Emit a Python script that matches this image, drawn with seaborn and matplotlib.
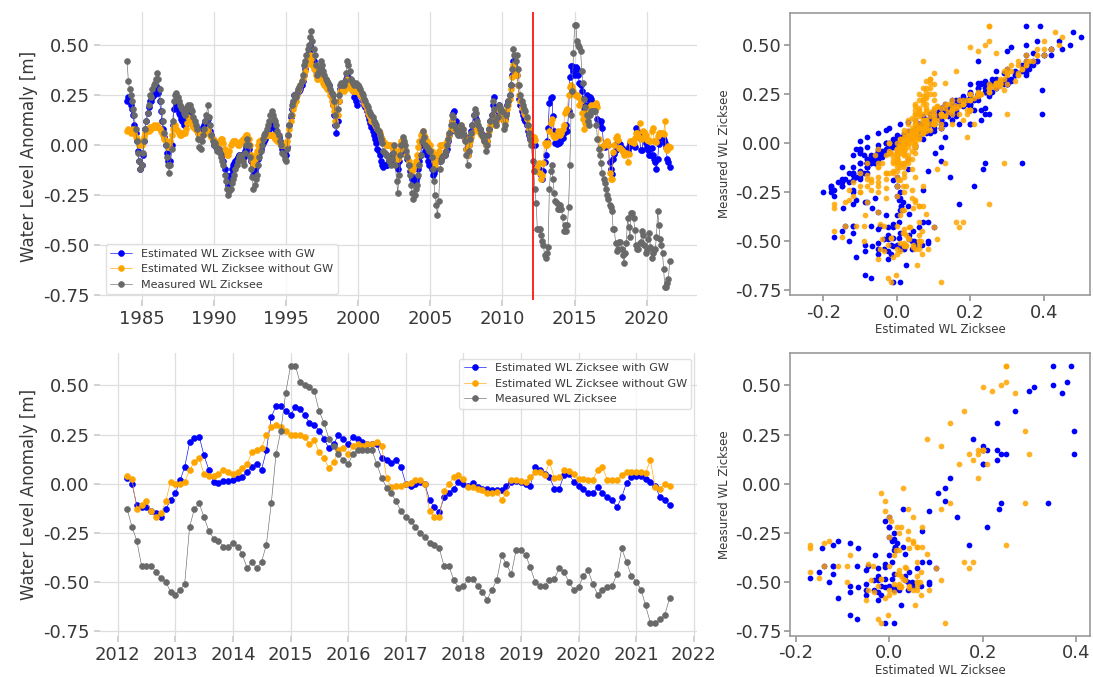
import numpy as np
import pandas as pd
import matplotlib
matplotlib.use("Agg")
import matplotlib.pyplot as plt
import matplotlib.dates as mdates
from matplotlib.ticker import MultipleLocator, FormatStrFormatter
import seaborn as sns

# ---------------- data (monthly, 1984-01 .. 2012-02) ----------------
measured_1984_2012 = [
    0.42, 0.32, 0.28, 0.25, 0.22, 0.18, 0.15, 0.08, 0.02, -0.04, -0.08, -0.12,
    -0.10, -0.04, 0.02, 0.08, 0.12, 0.16, 0.20, 0.25, 0.24, 0.28, 0.30, 0.31,
    0.33, 0.36, 0.33, 0.28, 0.22, 0.17, 0.12, 0.06, 0.00, -0.06, -0.10, -0.14,
    -0.10, -0.02, 0.12, 0.22, 0.25, 0.26, 0.24, 0.22, 0.20, 0.19, 0.18, 0.16,
    0.15, 0.17, 0.19, 0.20, 0.20, 0.18, 0.17, 0.14, 0.12, 0.10, 0.08, 0.03,
    -0.01, -0.02, 0.02, 0.05, 0.08, 0.12, 0.15, 0.20, 0.14, 0.10, 0.05, 0.02,
    0.00, 0.01, -0.01, -0.03, -0.02, -0.04, -0.06, -0.08, -0.10, -0.15, -0.18, -0.22,
    -0.25, -0.23, -0.22, -0.19, -0.17, -0.15, -0.12, -0.10, -0.08, -0.06, -0.05, -0.06,
    -0.08, -0.10, -0.04, 0.00, 0.03, 0.00, -0.06, -0.12, -0.16, -0.22, -0.20, -0.17,
    -0.15, -0.10, -0.06, -0.03, 0.00, 0.03, 0.05, 0.06, 0.08, 0.10, 0.12, 0.15,
    0.17, 0.15, 0.13, 0.12, 0.10, 0.07, 0.05, 0.02, 0.00, -0.04, -0.05, -0.07,
    -0.08, -0.02, 0.05, 0.10, 0.15, 0.20, 0.22, 0.25, 0.24, 0.26, 0.28, 0.29,
    0.30, 0.32, 0.35, 0.40, 0.42, 0.45, 0.48, 0.50, 0.54, 0.57, 0.52, 0.48,
    0.45, 0.40, 0.35, 0.36, 0.38, 0.42, 0.40, 0.37, 0.35, 0.33, 0.32, 0.31,
    0.30, 0.28, 0.26, 0.25, 0.22, 0.15, 0.10, 0.18, 0.25, 0.30, 0.31, 0.30,
    0.30, 0.32, 0.36, 0.42, 0.40, 0.37, 0.33, 0.32, 0.31, 0.30, 0.31, 0.30,
    0.30, 0.29, 0.28, 0.26, 0.25, 0.23, 0.22, 0.20, 0.19, 0.17, 0.16, 0.15,
    0.14, 0.12, 0.11, 0.10, 0.08, 0.07, 0.05, 0.03, 0.01, -0.03, -0.04, -0.05,
    -0.05, -0.06, -0.08, -0.10, -0.07, -0.04, 0.00, -0.10, -0.18, -0.24, -0.15, -0.05,
    0.00, 0.04, 0.02, 0.00, -0.03, -0.06, -0.10, -0.15, -0.20, -0.24, -0.27, -0.25,
    -0.22, -0.20, -0.15, -0.10, -0.05, 0.02, 0.07, 0.04, 0.00, -0.01, -0.02, -0.03,
    -0.03, -0.06, -0.12, -0.18, -0.25, -0.30, -0.35, -0.28, -0.12, -0.08, -0.06, -0.05,
    -0.05, -0.03, 0.00, 0.03, 0.06, 0.10, 0.15, 0.14, 0.10, 0.08, 0.06, 0.05,
    0.05, 0.07, 0.10, 0.08, 0.05, 0.02, -0.05, -0.10, -0.03, 0.03, 0.06, 0.10,
    0.15, 0.18, 0.16, 0.12, 0.10, 0.08, 0.06, 0.05, 0.04, 0.02, -0.03, 0.00,
    0.05, 0.08, 0.12, 0.15, 0.22, 0.18, 0.12, 0.10, 0.14, 0.20, 0.19, 0.17,
    0.17, 0.08, 0.10, 0.15, 0.20, 0.22, 0.25, 0.30, 0.38, 0.48, 0.45, 0.42,
    0.45, 0.38, 0.30, 0.25, 0.22, 0.20, 0.18, 0.17, 0.14, 0.10, 0.06, 0.03,
    0.00, -0.08,
]
est_gw_1984_2012 = [
    0.22, 0.24, 0.22, 0.20, 0.18, 0.15, 0.10, 0.06, 0.02, -0.03, -0.08, -0.12,
    -0.10, -0.05, 0.02, 0.08, 0.12, 0.16, 0.19, 0.22, 0.22, 0.24, 0.25, 0.26,
    0.27, 0.29, 0.26, 0.22, 0.17, 0.12, 0.08, 0.04, 0.00, -0.04, -0.08, -0.10,
    -0.08, 0.00, 0.10, 0.18, 0.22, 0.20, 0.18, 0.16, 0.15, 0.13, 0.12, 0.10,
    0.10, 0.13, 0.16, 0.18, 0.17, 0.14, 0.12, 0.11, 0.10, 0.09, 0.08, 0.06,
    0.05, 0.05, 0.07, 0.09, 0.10, 0.12, 0.12, 0.13, 0.10, 0.07, 0.05, 0.03,
    0.00, 0.00, -0.01, -0.02, -0.02, -0.03, -0.04, -0.05, -0.08, -0.12, -0.15, -0.18,
    -0.20, -0.18, -0.15, -0.12, -0.10, -0.09, -0.08, -0.07, -0.06, -0.05, -0.05, -0.05,
    -0.05, -0.06, -0.03, -0.01, 0.00, -0.02, -0.05, -0.08, -0.12, -0.15, -0.13, -0.11,
    -0.10, -0.07, -0.04, -0.02, 0.00, 0.01, 0.02, 0.03, 0.05, 0.06, 0.08, 0.09,
    0.10, 0.10, 0.09, 0.08, 0.06, 0.05, 0.04, 0.02, 0.00, -0.02, -0.03, -0.04,
    -0.05, -0.01, 0.05, 0.10, 0.14, 0.18, 0.21, 0.25, 0.25, 0.26, 0.27, 0.27,
    0.28, 0.30, 0.32, 0.35, 0.38, 0.42, 0.45, 0.47, 0.50, 0.48, 0.44, 0.42,
    0.40, 0.37, 0.35, 0.35, 0.36, 0.38, 0.36, 0.34, 0.32, 0.31, 0.30, 0.30,
    0.30, 0.27, 0.24, 0.20, 0.15, 0.10, 0.06, 0.12, 0.22, 0.28, 0.29, 0.29,
    0.30, 0.31, 0.33, 0.35, 0.34, 0.32, 0.30, 0.29, 0.27, 0.24, 0.22, 0.20,
    0.28, 0.27, 0.25, 0.24, 0.22, 0.20, 0.19, 0.17, 0.15, 0.13, 0.11, 0.09,
    0.07, 0.05, 0.03, 0.01, -0.02, -0.03, -0.05, -0.08, -0.10, -0.11, -0.10, -0.10,
    -0.10, -0.09, -0.08, -0.08, -0.06, -0.04, -0.03, -0.06, -0.10, -0.12, -0.08, -0.03,
    0.00, 0.00, -0.01, -0.03, -0.05, -0.07, -0.10, -0.13, -0.15, -0.17, -0.17, -0.18,
    -0.18, -0.16, -0.12, -0.08, -0.05, 0.00, 0.05, 0.02, -0.03, -0.05, -0.08, -0.10,
    -0.10, -0.12, -0.15, -0.14, -0.12, -0.08, -0.05, -0.06, -0.08, -0.07, -0.06, -0.05,
    -0.05, -0.03, -0.02, 0.02, 0.05, 0.07, 0.12, 0.16, 0.17, 0.12, 0.10, 0.08,
    0.07, 0.08, 0.08, 0.06, 0.04, 0.03, -0.02, -0.05, 0.00, 0.04, 0.07, 0.10,
    0.15, 0.15, 0.13, 0.10, 0.09, 0.08, 0.06, 0.05, 0.05, 0.03, 0.00, 0.02,
    0.05, 0.08, 0.12, 0.15, 0.20, 0.24, 0.15, 0.12, 0.14, 0.20, 0.18, 0.16,
    0.15, 0.12, 0.13, 0.16, 0.20, 0.22, 0.25, 0.30, 0.35, 0.42, 0.40, 0.37,
    0.35, 0.30, 0.23, 0.20, 0.17, 0.15, 0.13, 0.12, 0.10, 0.07, 0.05, 0.03,
    0.02, 0.03,
]
est_nogw_1984_2012 = [
    0.07, 0.08, 0.07, 0.06, 0.07, 0.08, 0.06, 0.04, 0.03, 0.02, 0.00, 0.01,
    0.00, 0.02, 0.04, 0.06, 0.07, 0.08, 0.07, 0.09, 0.08, 0.09, 0.10, 0.09,
    0.09, 0.10, 0.09, 0.08, 0.07, 0.06, 0.05, 0.03, 0.02, 0.00, -0.01, 0.00,
    0.02, 0.05, 0.08, 0.10, 0.10, 0.08, 0.07, 0.06, 0.05, 0.05, 0.06, 0.06,
    0.06, 0.08, 0.11, 0.14, 0.13, 0.12, 0.10, 0.09, 0.08, 0.08, 0.07, 0.06,
    0.05, 0.05, 0.05, 0.05, 0.06, 0.07, 0.07, 0.08, 0.06, 0.05, 0.04, 0.03,
    0.02, 0.02, 0.01, 0.00, 0.01, 0.02, 0.03, 0.03, 0.01, -0.02, -0.03, -0.05,
    -0.05, -0.03, 0.00, 0.01, 0.02, 0.02, 0.02, 0.01, 0.00, 0.00, 0.01, 0.02,
    0.03, 0.03, 0.04, 0.05, 0.05, 0.03, 0.00, -0.05, -0.08, -0.10, -0.07, -0.05,
    -0.03, 0.00, 0.02, 0.02, 0.03, 0.03, 0.04, 0.05, 0.05, 0.05, 0.05, 0.05,
    0.05, 0.05, 0.04, 0.03, 0.03, 0.02, 0.02, 0.01, 0.00, 0.00, 0.00, 0.00,
    0.00, 0.02, 0.05, 0.08, 0.12, 0.15, 0.18, 0.20, 0.22, 0.25, 0.27, 0.28,
    0.30, 0.32, 0.33, 0.35, 0.37, 0.40, 0.42, 0.44, 0.45, 0.43, 0.40, 0.38,
    0.38, 0.35, 0.33, 0.33, 0.34, 0.35, 0.33, 0.31, 0.30, 0.29, 0.28, 0.28,
    0.28, 0.25, 0.22, 0.20, 0.17, 0.12, 0.10, 0.15, 0.22, 0.27, 0.28, 0.28,
    0.27, 0.28, 0.30, 0.33, 0.31, 0.29, 0.28, 0.28, 0.27, 0.27, 0.27, 0.27,
    0.27, 0.26, 0.25, 0.25, 0.23, 0.21, 0.20, 0.18, 0.16, 0.15, 0.14, 0.12,
    0.12, 0.11, 0.10, 0.09, 0.08, 0.07, 0.06, 0.04, 0.03, 0.02, 0.01, 0.00,
    0.00, 0.00, 0.00, 0.00, -0.01, -0.02, -0.02, -0.04, -0.07, -0.07, -0.03, 0.00,
    0.02, 0.03, 0.01, -0.02, -0.05, -0.06, -0.08, -0.10, -0.12, -0.13, -0.12, -0.10,
    -0.08, -0.05, -0.01, 0.02, 0.05, 0.06, 0.07, 0.05, 0.04, 0.02, 0.01, 0.00,
    0.00, -0.03, -0.05, -0.08, -0.10, -0.08, -0.05, -0.03, 0.00, 0.00, 0.00, 0.00,
    0.00, 0.01, 0.02, 0.03, 0.05, 0.08, 0.12, 0.10, 0.08, 0.07, 0.07, 0.07,
    0.07, 0.09, 0.10, 0.08, 0.05, 0.03, -0.02, -0.05, 0.00, 0.02, 0.04, 0.06,
    0.10, 0.10, 0.09, 0.08, 0.07, 0.06, 0.05, 0.05, 0.04, 0.02, 0.00, 0.02,
    0.05, 0.07, 0.10, 0.12, 0.15, 0.13, 0.10, 0.10, 0.13, 0.18, 0.17, 0.15,
    0.15, 0.12, 0.12, 0.15, 0.18, 0.20, 0.23, 0.28, 0.34, 0.40, 0.38, 0.36,
    0.35, 0.30, 0.25, 0.22, 0.19, 0.18, 0.16, 0.15, 0.13, 0.10, 0.08, 0.05,
    0.02, 0.04,
]

# ---------------- data (monthly, 2012-03 .. 2021-08) ----------------
measured_2012_2021 = [
    -0.13, -0.22, -0.29, -0.42, -0.42, -0.42, -0.45, -0.48, -0.50, -0.55,
    -0.565, -0.54, -0.51, -0.22, -0.13, -0.10, -0.17, -0.24, -0.28, -0.29, -0.32, -0.32,
    -0.30, -0.32, -0.36, -0.43, -0.40, -0.43, -0.40, -0.31, -0.10, 0.15, 0.27, 0.46,
    0.60, 0.60, 0.52, 0.50, 0.49, 0.47, 0.37, 0.31, 0.23, 0.19, 0.15, 0.12,
    0.10, 0.15, 0.17, 0.17, 0.17, 0.17, 0.10, 0.03, -0.02, -0.05, -0.09, -0.14,
    -0.17, -0.19, -0.22, -0.25, -0.27, -0.30, -0.31, -0.33, -0.42, -0.42, -0.49, -0.53,
    -0.52, -0.485, -0.485, -0.52, -0.55, -0.59, -0.54, -0.49, -0.365, -0.41, -0.46, -0.34,
    -0.34, -0.365, -0.425, -0.50, -0.52, -0.52, -0.49, -0.485, -0.43, -0.45, -0.50, -0.54,
    -0.527, -0.47, -0.44, -0.51, -0.565, -0.54, -0.527, -0.52, -0.46, -0.33, -0.40, -0.47,
    -0.50, -0.54, -0.62, -0.71, -0.71, -0.69, -0.67, -0.58,
]
est_gw_2012_2021 = [
    0.03, 0.00, -0.11, -0.12, -0.12, -0.14, -0.15, -0.17, -0.13, -0.085,
    -0.05, 0.02, 0.085, 0.21, 0.235, 0.24, 0.145, 0.07, 0.01, 0.005, 0.012, 0.012,
    0.017, 0.03, 0.034, 0.06, 0.085, 0.10, 0.07, 0.17, 0.34, 0.395, 0.395, 0.37,
    0.35, 0.39, 0.38, 0.35, 0.31, 0.30, 0.27, 0.23, 0.18, 0.20, 0.25, 0.23,
    0.20, 0.24, 0.23, 0.21, 0.20, 0.20, 0.20, 0.13, 0.12, 0.105, 0.12, 0.085,
    0.00, -0.01, 0.00, 0.01, 0.00, -0.085, -0.12, -0.145, -0.07, -0.045, -0.025, 0.01,
    0.00, -0.01, 0.005, -0.017, -0.025, -0.025, -0.034, -0.034, -0.03, -0.01, 0.01, 0.014,
    0.01, 0.00, -0.01, 0.085, 0.068, 0.05, 0.034, -0.025, -0.025, 0.043, 0.048, 0.01,
    -0.01, -0.025, -0.05, -0.05, -0.017, -0.05, -0.068, -0.085, -0.12, -0.068, 0.005, 0.034,
    0.04, 0.04, 0.025, 0.01, -0.01, -0.07, -0.085, -0.11,
]
est_nogw_2012_2021 = [
    0.04, 0.025, -0.13, -0.11, -0.09, -0.14, -0.17, -0.15, -0.09, 0.01,
    0.00, 0.00, 0.01, 0.07, 0.11, 0.13, 0.05, 0.04, 0.04, 0.05, 0.07, 0.06,
    0.05, 0.06, 0.08, 0.10, 0.16, 0.17, 0.18, 0.25, 0.29, 0.30, 0.29, 0.27,
    0.25, 0.25, 0.25, 0.24, 0.20, 0.22, 0.16, 0.13, 0.08, 0.11, 0.17, 0.18,
    0.15, 0.19, 0.20, 0.19, 0.20, 0.20, 0.21, 0.19, 0.03, -0.017, -0.01, -0.01,
    0.00, 0.003, 0.017, 0.02, 0.00, -0.14, -0.17, -0.17, -0.035, 0.00, 0.034, 0.043,
    0.025, -0.017, -0.017, -0.025, -0.034, -0.05, -0.045, -0.04, -0.085, -0.045, 0.02, 0.02,
    0.014, 0.01, 0.034, 0.06, 0.06, 0.043, 0.11, 0.03, 0.035, 0.068, 0.065, 0.05,
    0.025, 0.025, 0.02, 0.02, 0.068, 0.085, 0.02, 0.02, 0.017, 0.043, 0.06, 0.06,
    0.06, 0.06, 0.055, 0.12, -0.017, -0.025, -0.003, -0.01,
]

series_labels = ["Estimated WL Zicksee with GW",
                 "Estimated WL Zicksee without GW",
                 "Measured WL Zicksee"]
series_colors = ["blue", "orange", "dimgray"]

# ---------------- assemble ----------------
meas = np.array(measured_1984_2012 + measured_2012_2021)
gw = np.array(est_gw_1984_2012 + est_gw_2012_2021)
nogw = np.array(est_nogw_1984_2012 + est_nogw_2012_2021)
n = min(len(meas), len(gw), len(nogw))
meas, gw, nogw = meas[:n], gw[:n], nogw[:n]
dates = pd.date_range("1984-01-01", periods=n, freq="MS")
df = pd.DataFrame({"date": dates, "gw": gw, "nogw": nogw, "meas": meas})
df_recent = df[df["date"] >= pd.Timestamp("2012-03-01")]

sns.set_theme(style="whitegrid")
plt.rcParams["font.family"] = ["DejaVu Sans"]

fig = plt.figure(figsize=(10.93, 6.77), dpi=100)
ax_ts1 = fig.add_axes([0.0915, 0.557, 0.546, 0.425])
ax_ts2 = fig.add_axes([0.0915, 0.0606, 0.546, 0.418])
ax_sc1 = fig.add_axes([0.7228, 0.564, 0.2745, 0.417])
ax_sc2 = fig.add_axes([0.7228, 0.0606, 0.2745, 0.418])

TXT = "0.22"


def draw_ts(ax, d, loc):
    for col, c, lab in zip(["gw", "nogw", "meas"], series_colors, series_labels):
        sns.lineplot(data=d, x="date", y=col, ax=ax, color=c, marker="o",
                     markersize=4.3, linewidth=0.45, markeredgecolor=c,
                     markeredgewidth=0.4, label=lab, legend=False)
    ax.set_xlabel("")
    ax.set_ylabel("Water Level Anomaly [m]", fontsize=12, color=TXT)
    ax.yaxis.set_major_locator(MultipleLocator(0.25))
    ax.yaxis.set_major_formatter(FormatStrFormatter("%.2f"))
    ax.grid(True, color="0.87", linewidth=0.9)
    for s in ax.spines.values():
        s.set_visible(False)
    ax.tick_params(axis="both", labelsize=13, labelcolor=TXT, length=4,
                   color="0.8", left=True, bottom=True)
    leg = ax.legend(loc=loc, fontsize=8, frameon=True, framealpha=0.8)
    leg.get_frame().set_edgecolor("0.85")
    for t in leg.get_texts():
        t.set_color(TXT)


draw_ts(ax_ts1, df, "lower left")
ax_ts1.xaxis.set_major_locator(mdates.YearLocator(5))
ax_ts1.xaxis.set_major_formatter(mdates.DateFormatter("%Y"))
ax_ts1.axvline(pd.Timestamp("2012-02-15"), color="red", linewidth=1.2)

draw_ts(ax_ts2, df_recent, "upper right")
ax_ts2.xaxis.set_major_locator(mdates.YearLocator(1))
ax_ts2.xaxis.set_major_formatter(mdates.DateFormatter("%Y"))


def draw_sc(ax, d, xlim):
    sns.scatterplot(x=d["gw"], y=d["meas"], ax=ax, color="blue", s=17,
                    linewidth=0)
    sns.scatterplot(x=d["nogw"], y=d["meas"], ax=ax, color="orange", s=17,
                    linewidth=0, alpha=0.85)
    ax.grid(False)
    ax.set_facecolor("white")
    for s in ax.spines.values():
        s.set_visible(True)
        s.set_color("0.6")
        s.set_linewidth(1.2)
    ax.set_xlim(*xlim)
    ax.set_xlabel("Estimated WL Zicksee", fontsize=8.5, color=TXT, labelpad=1)
    ax.set_ylabel("Measured WL Zicksee", fontsize=8.5, color=TXT, labelpad=3)
    ax.yaxis.set_major_locator(MultipleLocator(0.25))
    ax.yaxis.set_major_formatter(FormatStrFormatter("%.2f"))
    ax.xaxis.set_major_locator(MultipleLocator(0.2))
    ax.xaxis.set_major_formatter(FormatStrFormatter("%.1f"))
    ax.tick_params(axis="both", labelsize=13, labelcolor=TXT, length=4,
                   color="0.6", left=True, bottom=True, pad=2)


draw_sc(ax_sc1, df, (-0.29, 0.525))
draw_sc(ax_sc2, df_recent, (-0.213, 0.43))

fig.savefig("out.png", dpi=100)
